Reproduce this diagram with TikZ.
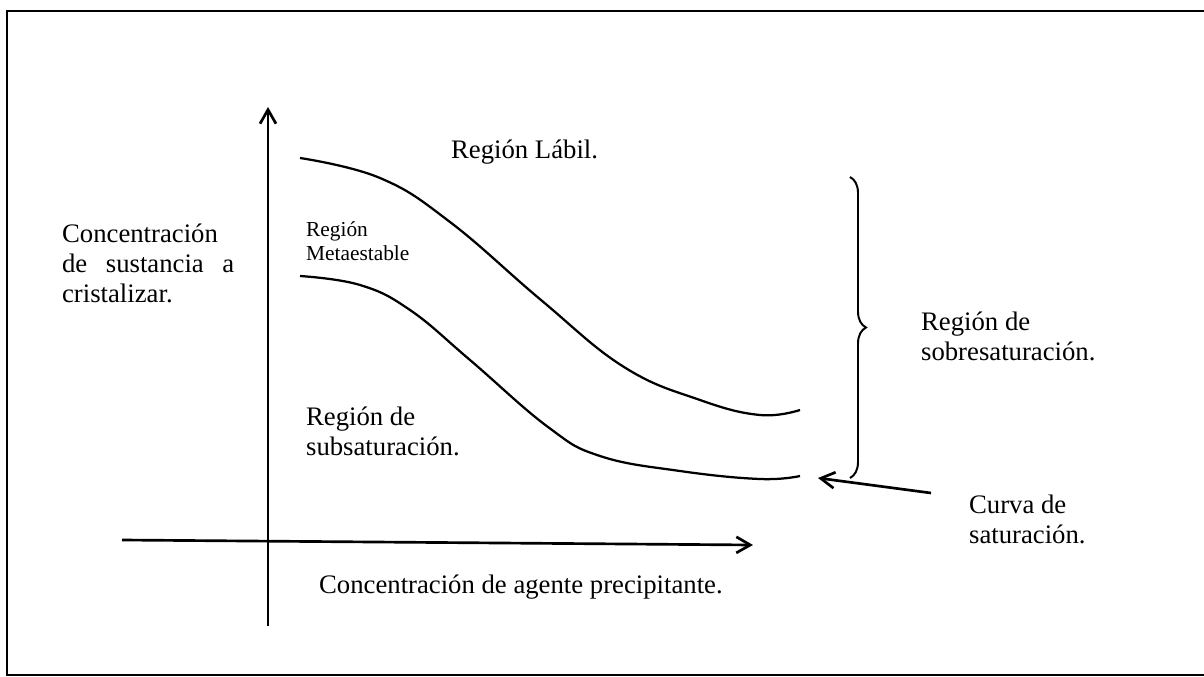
\documentclass[tikz,border=0pt]{standalone}
\usepackage{fontspec}
\setmainfont{Liberation Serif}
\usetikzlibrary{arrows.meta,decorations.pathreplacing,positioning}

\begin{document}
\begin{tikzpicture}[x=0.025cm, y=-0.025cm, line width=1.6pt,
    txt/.style={font=\fontsize{19}{21.3}\selectfont, align=left, anchor=base west, inner sep=0},
    smalltxt/.style={font=\fontsize{15.2}{16.4}\selectfont, align=left, anchor=base west, inner sep=0},
    axis/.style={-{Straight Barb[length=3.5mm,width=4mm]}, line width=1.9pt},
    curve/.style={line width=1.6pt}]
    \useasboundingbox (0,0) rectangle (1204,677);
    % frame
    \draw[line width=1.7pt] (1204,11) -- (7,11) -- (7,675) -- (1204,675);
    % axes
    \coordinate (ybot) at (268,626);
    \coordinate (ytop) at (268,107);
    \coordinate (xleft) at (122,540);
    \coordinate (xright) at (753,545);
    \draw[axis] (ybot) -- (ytop);
    \draw[axis] (xleft) -- (xright);
    % curves
    \draw[curve] plot[smooth, tension=0.7] coordinates {(300,158) (380,178) (450,222) (541,300)
        (624,367) (700,400) (760,415) (800,410)};
    \draw[curve] plot[smooth, tension=0.7] coordinates {(300,276) (360,285) (410,310) (470,360)
        (548,427) (600,456) (680,471) (760,479) (800,476)};
    % brace and arrow
    \coordinate (br1) at (850,177);
    \coordinate (br2) at (850,478);
    \draw[decorate, decoration={brace, amplitude=0.4cm}, line width=1.4pt] (br1) -- (br2);
    \coordinate (tail) at (931,493);
    \coordinate (tip) at (818,478);
    \draw[axis] (tail) -- (tip);
    % labels (base = last line)
    \node[txt] (labil) at (450,158) {Región Lábil.};
    \node[smalltxt] (meta) at (305,260) {Región\\Metaestable};
    \node[txt] (ylabel) at (61,302) {Concentración\\\makebox[4.3cm][s]{de sustancia a}\\cristalizar.};
    \node[txt] (sub) at (305,455) {Región de\\subsaturación.};
    \node[txt] (sobre) at (920,360) {Región de\\sobresaturación.};
    \node[txt] (curva) at (968,543) {Curva de\\saturación.};
    \node[txt] (xlabel) at (318,593) {Concentración de agente precipitante.};
\end{tikzpicture}
\end{document}
